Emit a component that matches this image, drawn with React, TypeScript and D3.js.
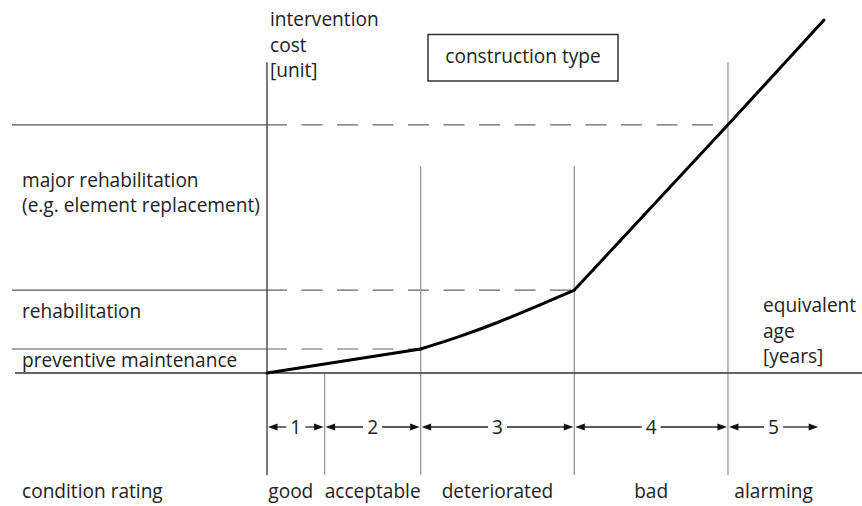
import * as d3 from 'd3';

// equivalent age (arbitrary units) at the borders of the condition classes
const classBounds = [0, 6, 16, 32, 48];
const lastClassEnd = 57.5;
const classNumbers = ['1', '2', '3', '4', '5'];
const conditionLabels = ['good', 'acceptable', 'deteriorated', 'bad', 'alarming'];

// cost levels of the interventions
const levelCosts = [6.8, 23.5, 70.3];
const levelEndAges = [16, 32, 48];

// intervention cost curve (the part between age 16 and 32 bends slightly)
const curveAges = [0, 16, 20, 24, 28, 32, 48, 58];
const curveCosts = [0, 6.8, 10.3, 14.3, 18.8, 23.5, 70.3, 100];

// top of the y axis and of each class border (cost units)
const axisTop = 88;
const boundTops = [88, 0, 58.6, 58.6, 88];

const W = 862;
const H = 506;
const FONT = '"Open Sans", sans-serif';
const FS = 19.1;

export default function App() {
  const x = d3.scaleLinear().domain([0, 58]).range([267, 824]);
  const y = d3.scaleLinear().domain([0, 100]).range([373, 20]);
  const bottom = 475;
  const arrowY = 427;

  const pts = curveAges.map((a, i) => [a, curveCosts[i]] as [number, number]);
  const bent = pts.filter(([a]) => a >= 16 && a <= 32);
  const straightA = pts.filter(([a]) => a <= 16);
  const straightB = pts.filter(([a]) => a >= 32);

  const lin = d3
    .line<[number, number]>()
    .x((d) => x(d[0]))
    .y((d) => y(d[1]));
  const smooth = lin.curve(d3.curveMonotoneX);
  const bentPath = smooth(bent) || '';
  lin.curve(d3.curveLinear);

  const segs = classBounds.map((a, i) => [a, i < classBounds.length - 1 ? classBounds[i + 1] : lastClassEnd]);

  const head = (tx: number, dir: number) =>
    `M${tx},${arrowY}L${tx + dir * 9.5},${arrowY - 3.6}L${tx + dir * 9.5},${arrowY + 3.6}Z`;

  return (
    <svg
      width={W}
      height={H}
      style={{ position: 'absolute', left: 0, top: 0, background: '#fff' }}
      fontFamily={FONT}
      fontSize={FS}
    >
      {/* level lines */}
      {levelCosts.map((c, i) => (
        <g key={'lvl' + i}>
          <line x1={12} x2={x(0)} y1={y(c)} y2={y(c)} stroke="#555" strokeWidth={1.2} />
          <line
            x1={x(0) - 1}
            x2={x(levelEndAges[i])}
            y1={y(c)}
            y2={y(c)}
            stroke="#666"
            strokeWidth={1.2}
            strokeDasharray="21,14.5"
          />
        </g>
      ))}

      {/* class borders */}
      {classBounds.map((a, i) => (
        <line
          key={'b' + i}
          x1={x(a)}
          x2={x(a)}
          y1={y(i === 0 ? axisTop : boundTops[i])}
          y2={bottom}
          stroke={i === 0 ? '#444' : '#999'}
          strokeWidth={i === 0 ? 1.4 : 1.3}
        />
      ))}

      {/* x axis */}
      <line x1={15} x2={W} y1={y(0)} y2={y(0)} stroke="#333" strokeWidth={1.6} />

      {/* cost curve */}
      <g fill="none" stroke="#000" strokeWidth={3} strokeLinejoin="round" strokeLinecap="round">
        <path d={lin(straightA) || ''} />
        <path d={bentPath} />
        <path d={lin(straightB) || ''} />
      </g>

      {/* class arrows */}
      {segs.map(([a0, a1], i) => {
        const x0 = x(a0) + 1;
        const x1 = x(a1) - 1;
        const cx = (x0 + x1) / 2;
        return (
          <g key={'s' + i}>
            <line x1={x0 + 4} x2={cx - 9.5} y1={arrowY} y2={arrowY} stroke="#222" strokeWidth={1.3} />
            <line x1={cx + 9.5} x2={x1 - 4} y1={arrowY} y2={arrowY} stroke="#222" strokeWidth={1.3} />
            <path d={head(x0, 1)} fill="#111" />
            <path d={head(x1, -1)} fill="#111" />
            <text x={cx} y={arrowY + 6.8} textAnchor="middle" fill="#222">
              {classNumbers[i]}
            </text>
            <text x={cx + (i === 0 ? -5 : 0)} y={498} textAnchor="middle" fill="#222">
              {conditionLabels[i]}
            </text>
          </g>
        );
      })}

      {/* left labels */}
      <g fill="#222">
        <text x={22} y={187}>major rehabilitation</text>
        <text x={22} y={212}>(e.g. element replacement)</text>
        <text x={22} y={318}>rehabilitation</text>
        <text x={22} y={367}>preventive maintenance</text>
        <text x={22} y={498}>condition rating</text>
      </g>

      {/* axis titles */}
      <g fill="#222">
        <text x={270} y={26}>intervention</text>
        <text x={270} y={52}>cost</text>
        <text x={270} y={77}>[unit]</text>
        <text x={763} y={312}>equivalent</text>
        <text x={763} y={338}>age</text>
        <text x={763} y={363}>[years]</text>
      </g>

      {/* construction type box */}
      <rect x={428} y={34.5} width={190} height={46.5} fill="none" stroke="#333" strokeWidth={1.5} />
      <text x={523} y={63} textAnchor="middle" fill="#222">
        construction type
      </text>
    </svg>
  );
}
